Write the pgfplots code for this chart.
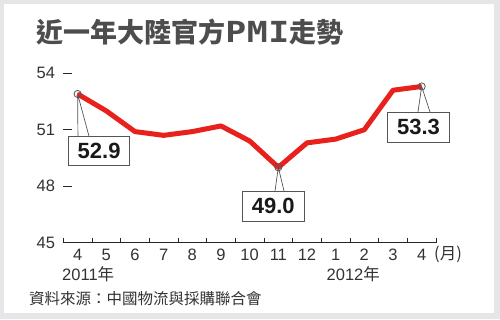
\documentclass[border=0pt]{standalone}
\usepackage{pgfplots}
\pgfplotsset{compat=1.18}
\usepackage{fontspec}
\setmainfont{Liberation Sans}
\newfontfamily\cjk{Noto Sans CJK TC}
\newfontfamily\mono{DejaVu Sans Mono}
\definecolor{frame}{HTML}{E6E6E8}
\definecolor{pmired}{HTML}{E8211C}
\definecolor{txt}{HTML}{333333}
\definecolor{ttl}{HTML}{4D4D4D}
\definecolor{boxgray}{HTML}{555555}
\newcommand\tl[1]{\makebox[21.5bp]{\scalebox{1.2}[1]{\mono\bfseries\fontsize{29bp}{30bp}\selectfont #1}}}
\begin{document}
\begin{tikzpicture}[x=1bp,y=1bp]
\fill[frame] (0,0) rectangle (500,319);
\fill[white] (4,6) rectangle (494,315);
\path[use as bounding box] (0,0) rectangle (500,319);
% title
\node[anchor=west, inner sep=0pt, text=ttl, font={\cjk\bfseries\fontsize{27bp}{29bp}\selectfont}] at (36,286.5) {近一年大陸官方\tl{P}\tl{M}\tl{I}走勢};
\begin{axis}[
  at={(63.3bp,76.5bp)}, anchor=south west,
  scale only axis, width=372.7bp, height=169.2bp,
  xmin=-0.5, xmax=12.5, ymin=45, ymax=54,
  clip=false,
  axis x line*=bottom, axis y line*=left,
  x axis line style={-, line width=0.8bp, draw=black!85},
  y axis line style={draw=none},
  tick align=inside,
  xtick={0,...,12},
  xticklabels={4,5,6,7,8,9,10,11,12,1,2,3,4},
  minor xtick={-0.5,0.5,...,12.5},
  major x tick style={draw=none},
  minor x tick style={line width=0.8bp, black!85},
  minor tick length=5bp,
  ytick={45,48,51,54},
  major y tick style={line width=0.8bp, black!85},
  major tick length=8.5bp,
  /pgf/number format/assume math mode=true,
  ticklabel style={font=\fontsize{16.5bp}{18bp}\selectfont, text=txt},
  yticklabel style={anchor=east, inner sep=0pt, xshift=-8bp},
  xticklabel style={anchor=north, inner sep=0pt, yshift=-6.5bp},
]
\addplot[pmired, line width=5bp, line join=round] coordinates {
(0,52.9) (1,52.0) (2,50.9) (3,50.7) (4,50.9) (5,51.2) (6,50.4)
(7,49.0) (8,50.3) (9,50.5) (10,51.0) (11,53.1) (12,53.3)};
\addplot[only marks, mark=o, mark size=3.6bp, mark options={draw=boxgray, line width=0.8bp}] coordinates {(0,52.9) (7,49.0) (12,53.3)};
% callouts
\draw[boxgray, line width=0.7bp] (axis cs:0,52.9) ++(0.3bp,-42bp) -- (axis cs:0,52.9) -- ++(11.3bp,-42bp);
\node[draw=boxgray, line width=0.8bp, fill=white, minimum width=61.5bp, minimum height=29bp, inner sep=0pt, font=\bfseries\fontsize{22bp}{24bp}\selectfont, text=black!90, shift={(21.5bp,-56.5bp)}] at (axis cs:0,52.9) {52.9};
\draw[boxgray, line width=0.7bp] (axis cs:7,49.0) ++(-3.3bp,-23.7bp) -- (axis cs:7,49.0) -- ++(5.7bp,-23.7bp);
\node[draw=boxgray, line width=0.8bp, fill=white, minimum width=61.5bp, minimum height=30bp, inner sep=0pt, font=\bfseries\fontsize{22bp}{24bp}\selectfont, text=black!90, shift={(-5bp,-38.7bp)}] at (axis cs:7,49.0) {49.0};
\draw[boxgray, line width=0.7bp] (axis cs:12,53.3) ++(-3.7bp,-25.5bp) -- (axis cs:12,53.3) -- ++(8.3bp,-25.5bp);
\node[draw=boxgray, line width=0.8bp, fill=white, minimum width=61.5bp, minimum height=30bp, inner sep=0pt, font=\bfseries\fontsize{22bp}{24bp}\selectfont, text=black!90, shift={(-3.2bp,-40.5bp)}] at (axis cs:12,53.3) {53.3};
\end{axis}
\node[anchor=west, inner sep=0pt, text=txt, font={\cjk\fontsize{16.5bp}{18bp}\selectfont}] at (434,64.5) {(月)};
\node[anchor=west, inner sep=0pt, text=txt, font={\fontsize{16.5bp}{18bp}\selectfont}] at (62,45) {2011{\cjk 年}};
\node[anchor=west, inner sep=0pt, text=txt, font={\fontsize{16.5bp}{18bp}\selectfont}] at (326.5,45) {2012{\cjk 年}};
\node[anchor=west, inner sep=0pt, text=txt, font={\cjk\fontsize{15.5bp}{17bp}\selectfont}] at (29,20.5) {資料來源：中國物流與採購聯合會};
\end{tikzpicture}
\end{document}
